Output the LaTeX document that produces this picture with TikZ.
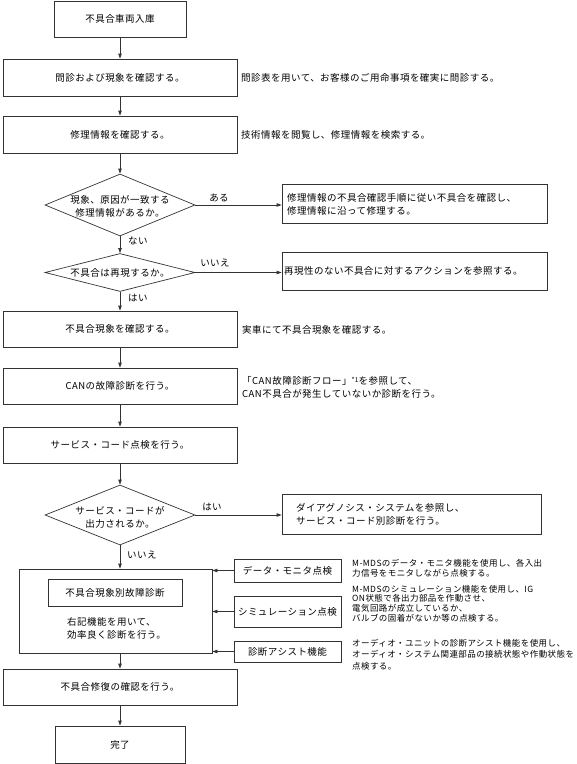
\documentclass[tikz,border=0pt]{standalone}
\usepackage{fontspec}
\setmainfont{Noto Sans CJK JP}[LetterSpace=5]
\usetikzlibrary{shapes.geometric,arrows.meta}
\newcommand\myfm{\fontsize{9.5pt}{13pt}\selectfont}
\newcommand\myfs{\fontsize{8.5pt}{9.6pt}\selectfont}
\newcommand\myfa{\fontsize{8.5pt}{11.5pt}\selectfont}
\tikzset{
  ln/.style={draw=black!80, line width=0.7pt},
  box/.style={ln, rectangle, inner sep=0pt, font=\myfm},
  dia/.style={ln, diamond, inner sep=0pt},
  arr/.style={ln, -{Triangle[length=5pt,width=3.4pt]}},
  lbl/.style={inner sep=0pt, font=\myfm},
  sml/.style={inner sep=0pt, font=\myfs, align=left, anchor=west},
}
\begin{document}
\begin{tikzpicture}[x=1pt,y=-1pt]
\useasboundingbox (0,0) rectangle (577,764);
% main column
\node[box, minimum width=132pt, minimum height=36pt] (b1) at (120,19) {不具合車両入庫};
\node[box, minimum width=234pt, minimum height=37pt] (b2) at (120,77.5) {問診および現象を確認する。};
\node[box, minimum width=234pt, minimum height=37pt] (b3) at (120,134.5) {修理情報を確認する。};
\node[dia, minimum width=150pt, minimum height=62pt] (d1) at (120,205) {};
\node[lbl, align=center] (d1t) at (120,206.5) {現象、原因が一致する\\修理情報があるか。};
\node[dia, minimum width=150pt, minimum height=38pt] (d2) at (120,272.5) {};
\node[lbl] (d2t) at (120,272.5) {不具合は再現するか。};
\node[box, minimum width=234pt, minimum height=36pt] (b4) at (120,329) {不具合現象を確認する。};
\node[box, minimum width=234pt, minimum height=36pt] (b5) at (120,386) {CANの故障診断を行う。};
\node[box, minimum width=234pt, minimum height=36pt] (b6) at (120,445) {サービス・コード点検を行う。};
\node[dia, minimum width=150pt, minimum height=60pt] (d3) at (120,515) {};
\node[lbl, align=center] (d3t) at (120,517) {サービス・コードが\\出力されるか。};
\node[box, minimum width=193pt, minimum height=84pt] (big) at (115.5,611) {};
\node[box, minimum width=134pt, minimum height=27pt] (inner) at (115,592.5) {不具合現象別故障診断};
\node[lbl, align=left, anchor=west] (bigt) at (67,628.5) {右記機能を用いて、\\効率良く診断を行う。};
\node[box, minimum width=234pt, minimum height=36pt] (fix) at (120,687) {不具合修復の確認を行う。};
\node[box, minimum width=130pt, minimum height=37pt] (done) at (120,744.5) {完了};
% right descriptions of main boxes
\node[lbl, anchor=west] (r2) at (241,78) {問診表を用いて、お客様のご用命事項を確実に問診する。};
\node[lbl, anchor=west] (r3) at (241,135) {技術情報を閲覧し、修理情報を検索する。};
\node[lbl, anchor=west] (r4) at (242,330) {実車にて不具合現象を確認する。};
\node[lbl, anchor=west, align=left] (r5) at (242,387.5) {「CAN故障診断フロー」\raisebox{2.5pt}{\fontsize{6.5pt}{6.5pt}\selectfont *1}を参照して、\\CAN不具合が発生していないか診断を行う。};
% branch boxes
\node[box, minimum width=265pt, minimum height=39pt] (ba) at (414.5,203.5) {};
\node[lbl, anchor=west, align=left] (bat) at (287,204) {修理情報の不具合確認手順に従い不具合を確認し、\\修理情報に沿って修理する。};
\node[box, minimum width=265pt, minimum height=38pt] (bb) at (414.5,271) {};
\node[lbl, anchor=west] (bbt) at (284,271) {再現性のない不具合に対するアクションを参照する。};
\node[box, minimum width=259pt, minimum height=40pt] (bc) at (411.5,514) {};
\node[lbl, anchor=west, align=left] (bct) at (296,514) {ダイアグノシス・システムを参照し、\\サービス・コード別診断を行う。};
% side function boxes
\node[box, minimum width=107pt, minimum height=23pt] (dm) at (287.5,570.5) {データ・モニタ点検};
\node[box, minimum width=107pt, minimum height=31pt] (sim) at (287.5,611.5) {シミュレーション点検};
\node[box, minimum width=107pt, minimum height=21pt] (as) at (287.5,651.5) {診断アシスト機能};
\node[sml] (dmt) at (352,568.5) {M-MDSのデータ・モニタ機能を使用し、各入出\\力信号をモニタしながら点検する。};
\node[sml] (simt) at (352,603.5) {M-MDSのシミュレーション機能を使用し、IG\\ON状態で各出力部品を作動させ、\\電気回路が成立しているか、\\バルブの固着がないか等の点検する。};
\node[sml, font=\myfa] (ast) at (352,654.5) {オーディオ・ユニットの診断アシスト機能を使用し、\\オーディオ・システム関連部品の接続状態や作動状態を\\点検する。};
% labels
\node[lbl] (la) at (219,198) {ある};
\node[lbl, anchor=west] (lb) at (128,241) {ない};
\node[lbl] (lc) at (215,263) {いいえ};
\node[lbl, anchor=west] (ld) at (128,298) {はい};
\node[lbl] (le) at (212,507) {はい};
\node[lbl, anchor=west] (lf) at (127,555) {いいえ};
% connectors
\draw[arr] (b1.south) -- (b2.north);
\draw[arr] (b2.south) -- (b3.north);
\draw[arr] (b3.south) -- (d1.north);
\draw[arr] (d1.south) -- (d2.north);
\draw[arr] (d2.south) -- (b4.north);
\draw[arr] (b4.south) -- (b5.north);
\draw[arr] (b5.south) -- (b6.north);
\draw[arr] (b6.south) -- (d3.north);
\draw[arr] (d3.south) -- (d3.south |- big.north);
\draw[arr] (fix.north |- big.south) -- (fix.north);
\draw[arr] (fix.south) -- (done.north);
\draw[arr] (d1.east) -- (d1.east -| ba.west);
\draw[arr] (d2.east) -- (d2.east -| bb.west);
\draw[arr] (d3.east) -- (d3.east -| bc.west);
\draw[arr] (dm.west) -- (dm.west -| big.east);
\draw[arr] (sim.west) -- (sim.west -| big.east);
\draw[arr] (as.west) -- (as.west -| big.east);
\end{tikzpicture}
\end{document}
